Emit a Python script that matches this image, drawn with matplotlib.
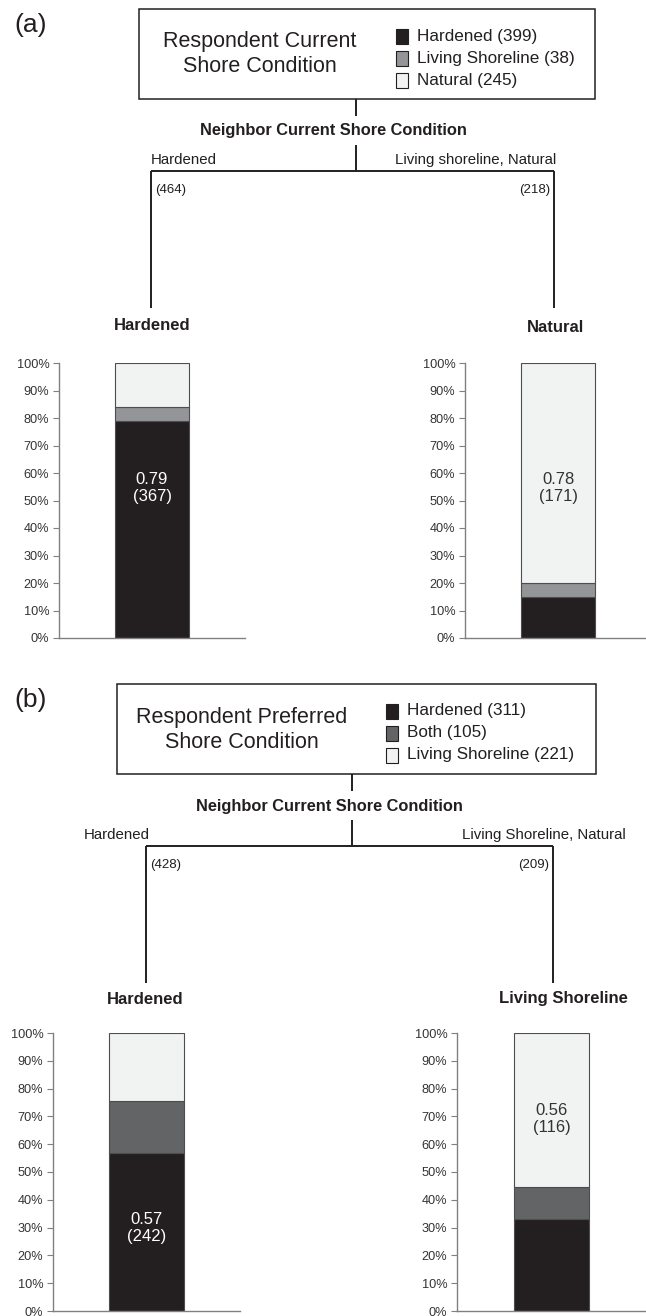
import matplotlib
matplotlib.use("Agg")
import matplotlib.pyplot as plt
from matplotlib.patches import Rectangle

plt.rcParams['font.family'] = ['Liberation Sans', 'DejaVu Sans']

# ---------------- data ----------------
pct_ticks = [0, 0.1, 0.2, 0.3, 0.4, 0.5, 0.6, 0.7, 0.8, 0.9, 1.0]
pct_labels = ["0%", "10%", "20%", "30%", "40%", "50%", "60%", "70%", "80%", "90%", "100%"]

# panel (a): respondent current shore condition by neighbor current condition
a_categories = ["Hardened", "Living Shoreline", "Natural"]
a_counts = [399, 38, 245]
a_groups = ["Hardened", "Natural"]
a_branch_labels = ["Hardened", "Living shoreline, Natural"]
a_branch_n = [464, 218]
a_hardened = [0.79, 0.15]
a_living = [0.05, 0.05]
a_natural = [0.16, 0.80]
a_annot_value = ["0.79", "0.78"]
a_annot_n = [367, 171]

# panel (b): respondent preferred shore condition by neighbor current condition
b_categories = ["Hardened", "Both", "Living Shoreline"]
b_counts = [311, 105, 221]
b_groups = ["Hardened", "Living Shoreline"]
b_branch_labels = ["Hardened", "Living Shoreline, Natural"]
b_branch_n = [428, 209]
b_hardened = [0.57, 0.33]
b_both = [0.185, 0.115]
b_living = [0.245, 0.555]
b_annot_value = ["0.57", "0.56"]
b_annot_n = [242, 116]

# ---------------- style ----------------
C_HARD = "#231f20"
C_LIVA = "#939598"
C_NAT = "#f1f2f2"
C_BOTH = "#636466"
EDGE = "#4d4d4d"
INK = "#231f20"
W, H = 646, 1316

fig = plt.figure(figsize=(W / 100, H / 100), dpi=100)
ov = fig.add_axes([0, 0, 1, 1])
ov.set_xlim(0, W)
ov.set_ylim(H, 0)
ov.axis("off")


def line(xs, ys, lw=1.4):
    ov.plot(xs, ys, color=INK, lw=lw, solid_capstyle="butt")


def tree(dy, tag, tag_x, title_lines, title_cx, cats, counts, colors, box, leg_x, branch_labels,
         branch_n, stem_x, hl_x, lab_left_x, lab_right_x):
    bx0, bx1 = box
    ov.text(tag_x, 25 + dy, tag, fontsize=19, va="center", ha="left", color=INK)
    ov.add_patch(Rectangle((bx0, 9 + dy), bx1 - bx0, 90, fill=False, ec=INK, lw=1.1))
    ov.text(title_cx, 42 + dy, title_lines[0], fontsize=15.5, ha="center", va="center", color=INK)
    ov.text(title_cx, 67 + dy, title_lines[1], fontsize=15.5, ha="center", va="center", color=INK)
    for i, (c, n, col) in enumerate(zip(cats, counts, colors)):
        yc = 36 + dy + i * 22
        ov.add_patch(Rectangle((leg_x, yc - 7.5), 12, 15, fc=col, ec=INK, lw=0.8))
        ov.text(leg_x + 21, yc, f"{c} ({n})", fontsize=12.3, ha="left", va="center", color=INK)
    line([stem_x, stem_x], [99 + dy, 116 + dy])
    ov.text(stem_x - 23, 131 + dy, "Neighbor Current Shore Condition", fontsize=11.8,
            fontweight="bold", ha="center", va="center", color=INK)
    line([stem_x, stem_x], [145 + dy, 171 + dy])
    ov.text(lab_left_x, 160 + dy, branch_labels[0], fontsize=10.8, ha="left", va="center", color=INK)
    ov.text(lab_right_x, 160 + dy, branch_labels[1], fontsize=10.8, ha="right", va="center", color=INK)
    line([hl_x[0], hl_x[1]], [171 + dy, 171 + dy])
    line([hl_x[0], hl_x[0]], [171 + dy, 308 + dy])
    line([hl_x[1], hl_x[1]], [171 + dy, 308 + dy])
    ov.text(hl_x[0] + 4, 190 + dy, f"({branch_n[0]})", fontsize=9.5, ha="left", va="center", color=INK)
    ov.text(hl_x[1] - 4, 190 + dy, f"({branch_n[1]})", fontsize=9.5, ha="right", va="center", color=INK)


def bar_axes(x0, x1, y0, y1, xlim, group, stacks, colors, val, n, text_col, text_y, title_x, title_y):
    ax = fig.add_axes([x0 / W, 1 - y1 / H, (x1 - x0) / W, (y1 - y0) / H])
    bottom = 0.0
    for v, col in zip(stacks, colors):
        ax.bar([0], [v], bottom=[bottom], width=0.8, color=col, edgecolor=EDGE, linewidth=0.8)
        bottom += v
    ax.set_xlim(*xlim)
    ax.set_ylim(0, 1)
    ax.set_yticks(pct_ticks)
    ax.set_yticklabels(pct_labels)
    ax.set_xticks([])
    for s in ["top", "right"]:
        ax.spines[s].set_visible(False)
    for s in ["left", "bottom"]:
        ax.spines[s].set_color("#808080")
        ax.spines[s].set_linewidth(1.0)
    ax.tick_params(axis="y", length=4, color="#808080", labelsize=9.2, labelcolor="#333333", pad=3)
    ax.text(0, text_y, f"{val}\n({n})", ha="center", va="center", fontsize=12,
            color=text_col, linespacing=1.15)
    ov.text(title_x, title_y, group, fontsize=12, fontweight="bold", ha="center", va="center",
            color=INK)
    return ax


# ---------- panel (a) ----------
tree(0, "(a)", 14, ["Respondent Current", "Shore Condition"], 260, a_categories, a_counts,
     [C_HARD, C_LIVA, C_NAT], (139, 595), 396, a_branch_labels, a_branch_n,
     356, (151, 554), 151, 556)
a_cols = [C_HARD, C_LIVA, C_NAT]
bar_axes(59, 245, 363, 638, (-1, 1), a_groups[0],
         [a_hardened[0], a_living[0], a_natural[0]], a_cols,
         a_annot_value[0], a_annot_n[0], "white", 0.545, 152, 325)
bar_axes(465, 646, 363, 638, (-1, 0.945), a_groups[1],
         [a_hardened[1], a_living[1], a_natural[1]], a_cols,
         a_annot_value[1], a_annot_n[1], "#333333", 0.545, 555, 327)

# ---------- panel (b) ----------
dy = 675
tree(dy, "(b)", 14, ["Respondent Preferred", "Shore Condition"], 242, b_categories, b_counts,
     [C_HARD, C_BOTH, C_NAT], (117, 596), 386, b_branch_labels, b_branch_n,
     352, (146, 553), 84, 626)
b_cols = [C_HARD, C_BOTH, C_NAT]
bar_axes(53, 240, 1033, 1311, (-1, 1), b_groups[0],
         [b_hardened[0], b_both[0], b_living[0]], b_cols,
         b_annot_value[0], b_annot_n[0], "white", 0.30, 145, 999)
bar_axes(457, 646, 1033, 1311, (-1, 1), b_groups[1],
         [b_hardened[1], b_both[1], b_living[1]], b_cols,
         b_annot_value[1], b_annot_n[1], "#333333", 0.69, 563, 999)

fig.savefig("out.png", dpi=100)
